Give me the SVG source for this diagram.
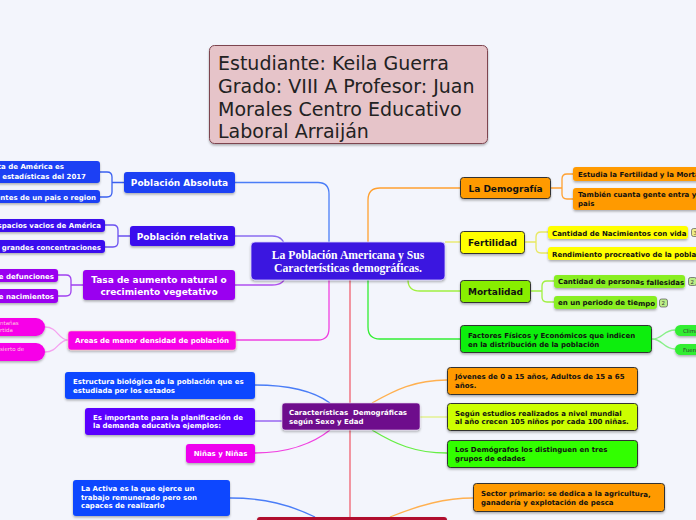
<svg xmlns="http://www.w3.org/2000/svg" width="696" height="520" viewBox="0 0 696 520">
<defs>
<filter id="sh" x="-10%" y="-20%" width="120%" height="160%"><feDropShadow dx="0" dy="1.5" stdDeviation="1" flood-color="#000" flood-opacity="0.3"/></filter>
<style>
.t{font-family:"DejaVu Sans",Verdana,sans-serif;font-weight:bold}
.w{fill:#fff}.k{fill:#111}
.m{font-size:9px}.s{font-size:7px}
.dk{stroke:#333;stroke-width:1}
.c{fill:none;stroke-width:1.3}
</style>
</defs>
<rect width="696" height="520" fill="#f3f5fc"/>

<g id="connectors">
<path class="c" stroke="#4a7df7" d="M235,182.5 H318 Q329,182.5 329,194 V242"/>
<path class="c" stroke="#8a6cf0" d="M235,236 H272 Q285,236 285,250"/>
<path class="c" stroke="#b050f0" d="M235,285 H272 Q285,285 285,275"/>
<path class="c" stroke="#f040e0" d="M236,340 H318 Q329,340 329,328 V280"/>
<path class="c" stroke="#ffa030" d="M368,242 V200 Q368,188 380,188 H460"/>
<path class="c" stroke="#e8e860" d="M445,242 H460"/>
<path class="c" stroke="#a0f040" d="M408,280 Q408,291 420,291 H460"/>
<path class="c" stroke="#33ee33" d="M368,280 V327 Q368,339 380,339 H460"/>
<path class="c" stroke="#f06070" d="M350,280 V518"/>
<path class="c" stroke="#3a60f0" d="M124,182.5 H112 M100,172 H107 Q112,172 112,177 V192 Q112,197 107,197 H100"/>
<path class="c" stroke="#6a50f0" d="M130,236 H118 M105,225 H113 Q118,225 118,230 V242 Q118,247 113,247 H105"/>
<path class="c" stroke="#a040f0" d="M83,285 H71 M58,275 H66 Q71,275 71,280 V291 Q71,296 66,296 H58"/>
<path class="c" stroke="#f5a0f0" d="M68,340 C58,340 58,327 45,327 M68,340 C58,340 58,352 45,352"/>
<path class="c" stroke="#ffa030" d="M550,188 H562 M573,174 H567 Q562,174 562,179 V194 Q562,199 567,199 H573"/>
<path class="c" stroke="#e8e860" d="M524,242 H536 M548,232 H541 Q536,232 536,237 V248 Q536,253 541,253 H548"/>
<path class="c" stroke="#a0f040" d="M531,291 H542 M554,281 H547 Q542,281 542,286 V297 Q542,302 547,302 H554"/>
<path class="c" stroke="#88f088" d="M652,339 C663,339 663,330 675,330 M652,339 C663,339 663,349 675,349"/>
<path class="c" stroke="#4a7df7" d="M255,385 C290,385 315,392 330,403"/>
<path class="c" stroke="#8a50f0" d="M255,421 H282"/>
<path class="c" stroke="#f040e0" d="M255,453 C290,453 315,442 330,430"/>
<path class="c" stroke="#ffb050" d="M372,403 C395,390 415,380 447,380"/>
<path class="c" stroke="#e0f080" d="M420,417 H447"/>
<path class="c" stroke="#66ee44" d="M372,430 C395,444 415,453 447,453"/>
<path class="c" stroke="#4a7df7" d="M230,498 C265,498 290,505 315,517"/>
<path class="c" stroke="#ffb050" d="M390,517 C420,505 445,498 473,498"/>
</g>

<g id="title">
<rect x="209.5" y="45.5" width="278" height="98" rx="5" fill="#e6c4c9" stroke="#7d4550" filter="url(#sh)"/>
<text x="218" font-family="DejaVu Sans,Verdana,sans-serif" font-size="19" fill="#222"><tspan x="218" y="70">Estudiante: Keila Guerra</tspan><tspan x="218" y="93">Grado: VIII A Profesor: Juan</tspan><tspan x="218" y="116">Morales Centro Educativo</tspan><tspan x="218" y="138">Laboral Arraiján</tspan></text>
</g>

<g id="central">
<rect x="251" y="242" width="194" height="38" rx="4" fill="#3a13e0" stroke="#d8d0ff" stroke-width="0.8" filter="url(#sh)"/>
<text font-family="Liberation Serif,serif" font-weight="bold" font-size="11.7" fill="#fff" text-anchor="middle"><tspan x="348" y="259">La Población Americana y Sus</tspan><tspan x="348" y="272">Características demográficas.</tspan></text>
</g>

<g id="pob-absoluta">
<rect x="124" y="172" width="111" height="21" rx="3" fill="#1b40f4" filter="url(#sh)"/>
<text class="t m w" x="179.5" y="186" text-anchor="middle">Población Absoluta</text>
</g>
<g id="abs-1">
<rect x="-10" y="161" width="110" height="22" rx="3" fill="#1b40f4" filter="url(#sh)"/>
<text class="t s w" text-anchor="end"><tspan x="64" y="169">ta de América es</tspan><tspan x="86" y="179">s estadísticas del 2017</tspan></text>
</g>
<g id="abs-2">
<rect x="-10" y="190" width="110" height="13" rx="3" fill="#1b40f4" filter="url(#sh)"/>
<text class="t s w" text-anchor="end" x="96" y="199.5">ntantes de un pais o region</text>
</g>

<g id="pob-relativa">
<rect x="130" y="226" width="105" height="20" rx="3" fill="#3a10ee" filter="url(#sh)"/>
<text class="t m w" x="182.5" y="239.5" text-anchor="middle">Población relativa</text>
</g>
<g id="rel-1">
<rect x="-10" y="219" width="115" height="13" rx="3" fill="#3a10ee" filter="url(#sh)"/>
<text class="t s w" text-anchor="end" x="101" y="228">spacios vacios de América</text>
</g>
<g id="rel-2">
<rect x="-10" y="240" width="115" height="13" rx="3" fill="#3a10ee" filter="url(#sh)"/>
<text class="t s w" text-anchor="end" x="101" y="249.5">r grandes concentraciones</text>
</g>

<g id="tasa">
<rect x="83" y="270" width="152" height="30" rx="3" fill="#9a00f0" filter="url(#sh)"/>
<text class="t m w" text-anchor="middle"><tspan x="159" y="283">Tasa de aumento natural o</tspan><tspan x="159" y="294.5">crecimiento vegetativo</tspan></text>
</g>
<g id="tasa-1">
<rect x="-10" y="269" width="68" height="13" rx="3" fill="#9a00f0" filter="url(#sh)"/>
<text class="t s w" text-anchor="end" x="54" y="278.5">e defunciones</text>
</g>
<g id="tasa-2">
<rect x="-10" y="289" width="68" height="14" rx="3" fill="#9a00f0" filter="url(#sh)"/>
<text class="t s w" text-anchor="end" x="54" y="299">e nacimientos</text>
</g>

<g id="areas">
<rect x="68" y="331" width="168" height="19" rx="3" fill="#f700e8" stroke="#fbb" stroke-width="0.6" filter="url(#sh)"/>
<text class="t s w" x="152" y="343" text-anchor="middle">Areas de menor densidad de población</text>
</g>
<g id="areas-1">
<rect x="-10" y="318" width="55" height="18" rx="9" fill="#f700e8" filter="url(#sh)"/>
<text font-family="DejaVu Sans,sans-serif" font-size="5.5" fill="#fcd"><tspan x="0" y="325">ntañas</tspan><tspan x="0" y="332">rtida</tspan></text>
</g>
<g id="areas-2">
<rect x="-10" y="343" width="55" height="18" rx="9" fill="#f700e8" filter="url(#sh)"/>
<text font-family="DejaVu Sans,sans-serif" font-size="5.5" fill="#fcd" x="0" y="351">sierto de</text>
</g>

<g id="demografia">
<rect x="460.5" y="177.5" width="90" height="21" rx="3" fill="#ff9a00" class="dk" filter="url(#sh)"/>
<text class="t m k" x="505.5" y="191.5" text-anchor="middle">La Demografía</text>
</g>
<g id="dem-1">
<rect x="573" y="167" width="140" height="14" rx="3" fill="#ff9a00" filter="url(#sh)"/>
<text class="t s k" x="578" y="176.5">Estudia la Fertilidad y la Mortalidad</text>
</g>
<g id="dem-2">
<rect x="573" y="188" width="140" height="22" rx="3" fill="#ff9a00" filter="url(#sh)"/>
<text class="t s k"><tspan x="578" y="197">También cuanta gente entra y sale de un</tspan><tspan x="578" y="206">pais</tspan></text>
</g>

<g id="fertilidad">
<rect x="460.5" y="231.5" width="64" height="22" rx="3" fill="#ffff00" class="dk" filter="url(#sh)"/>
<text class="t m k" x="492.5" y="246" text-anchor="middle">Fertilidad</text>
</g>
<g id="fer-1">
<rect x="548" y="226" width="140" height="13" rx="3" fill="#ffff00" filter="url(#sh)"/>
<text class="t s k" x="552" y="235.5">Cantidad de Nacimientos con vida</text>
<rect x="691.5" y="228.5" width="8" height="8" rx="2" fill="#eeee88" stroke="#555" stroke-width="0.7"/>
<text font-family="DejaVu Sans,sans-serif" font-size="5.5" fill="#333" x="693.5" y="234.5">3</text>
</g>
<g id="fer-2">
<rect x="548" y="247" width="160" height="13" rx="3" fill="#ffff00" filter="url(#sh)"/>
<text class="t s k" x="552" y="256.5">Rendimiento procreativo de la poblacion</text>
</g>

<g id="mortalidad">
<rect x="460.5" y="280.5" width="70" height="22" rx="3" fill="#88ee00" class="dk" filter="url(#sh)"/>
<text class="t m k" x="495.5" y="295" text-anchor="middle">Mortalidad</text>
</g>
<g id="mor-1">
<rect x="554" y="275" width="131" height="13" rx="3" fill="#88ee22" filter="url(#sh)"/>
<text class="t s k" x="558" y="283.5">Cantidad de persona<tspan dy="1.3">s fallesidas</tspan></text>
<rect x="688.5" y="277.5" width="8" height="8" rx="2" fill="#bbee88" stroke="#555" stroke-width="0.7"/>
<text font-family="DejaVu Sans,sans-serif" font-size="5.5" fill="#333" x="690.5" y="283.5">2</text>
</g>
<g id="mor-2">
<rect x="554" y="296" width="103" height="13" rx="3" fill="#88ee22" filter="url(#sh)"/>
<text class="t s k" x="558" y="304.5">en un periodo de tie<tspan dy="1.3">mpo</tspan></text>
<rect x="659.5" y="299" width="8" height="8" rx="2" fill="#bbee88" stroke="#555" stroke-width="0.7"/>
<text font-family="DejaVu Sans,sans-serif" font-size="5.5" fill="#333" x="661.5" y="305">2</text>
</g>

<g id="factores">
<rect x="460.5" y="325.5" width="191" height="27" rx="3" fill="#11ee11" class="dk" filter="url(#sh)"/>
<text class="t s k"><tspan x="468" y="338">Factores Físicos y Económicos que indicen</tspan><tspan x="468" y="347">en la distribución de la población</tspan></text>
</g>
<g id="fac-1">
<rect x="675" y="325" width="40" height="11" rx="5.5" fill="#33ee33" filter="url(#sh)"/>
<text font-family="DejaVu Sans,sans-serif" font-size="5.5" fill="#333" x="683" y="332.5">Clima</text>
</g>
<g id="fac-2">
<rect x="675" y="344" width="40" height="11" rx="5.5" fill="#33ee33" filter="url(#sh)"/>
<text font-family="DejaVu Sans,sans-serif" font-size="5.5" fill="#333" x="683" y="351.5">Fuentes</text>
</g>

<g id="caracteristicas">
<rect x="282" y="403" width="138" height="27" rx="3" fill="#6e0a8c" stroke="#e8d8f0" stroke-width="0.6" filter="url(#sh)"/>
<text class="t s w"><tspan x="289" y="415">Características&#160; Demográficas</tspan><tspan x="289" y="424">según Sexo y Edad</tspan></text>
</g>
<g id="estructura">
<rect x="65" y="372" width="190" height="27" rx="3" fill="#0a46ff" filter="url(#sh)"/>
<text class="t s w"><tspan x="73" y="383.5">Estructura biológica de la población que es</tspan><tspan x="73" y="392.5">estudiada por los estados</tspan></text>
</g>
<g id="importante">
<rect x="85" y="408" width="170" height="27" rx="3" fill="#5a00ff" filter="url(#sh)"/>
<text class="t s w"><tspan x="93" y="419.5">Es importante para la planificación de</tspan><tspan x="93" y="428">la demanda educativa ejemplos:</tspan></text>
</g>
<g id="ninas">
<rect x="186" y="444" width="69" height="19" rx="3" fill="#ee00ee" filter="url(#sh)"/>
<text class="t s w" x="220.5" y="456" text-anchor="middle">Niñas y Niñas</text>
</g>
<g id="jovenes">
<rect x="447.5" y="367.5" width="190" height="27" rx="3" fill="#ff9a00" class="dk" filter="url(#sh)"/>
<text class="t s k"><tspan x="455" y="379">Jóvenes de 0 a 15 años, Adultos de 15 a 65</tspan><tspan x="455" y="387.5">años.</tspan></text>
</g>
<g id="segun">
<rect x="447.5" y="403.5" width="190" height="27" rx="3" fill="#ccff00" class="dk" filter="url(#sh)"/>
<text class="t s k"><tspan x="455" y="415.5">Según estudios realizados a nivel mundial</tspan><tspan x="455" y="424">al año crecen 105 niños por cada 100 niñas.</tspan></text>
</g>
<g id="demografos">
<rect x="447.5" y="440.5" width="190" height="27" rx="3" fill="#33ff00" class="dk" filter="url(#sh)"/>
<text class="t s k"><tspan x="455" y="452">Los Demógrafos los distinguen en tres</tspan><tspan x="455" y="460.5">grupos de edades</tspan></text>
</g>

<g id="activa">
<rect x="73" y="480" width="157" height="36" rx="3" fill="#0a46ff" filter="url(#sh)"/>
<text class="t s w"><tspan x="81" y="491">La Activa es la que ejerce un</tspan><tspan x="81" y="499.5">trabajo remunerado pero son</tspan><tspan x="81" y="508">capaces de realizarlo</tspan></text>
</g>
<g id="poblacion-economica">
<rect x="257" y="517" width="190" height="20" rx="3" fill="#b0102e" filter="url(#sh)"/>
</g>
<g id="sector-primario">
<rect x="473.5" y="483.5" width="191" height="28" rx="3" fill="#ff9a00" class="dk" filter="url(#sh)"/>
<text class="t s k"><tspan x="481" y="496">Sector primario: se dedica a la agricultu<tspan dy="1.3">ra,</tspan></tspan><tspan x="481" y="504.5">ganadería y explotación de pesca</tspan></text>
</g>
</svg>
